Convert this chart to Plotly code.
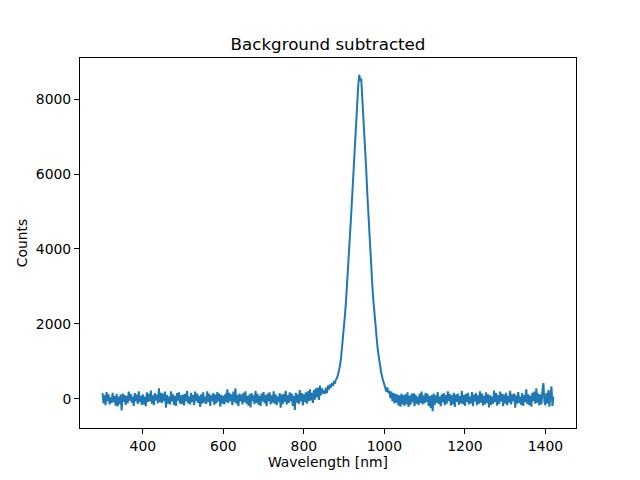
import numpy as np
import plotly.graph_objects as go

wl_start = 300
wl_step = 2.5
counts = [
    # 300 - 347.5
    150, -120, 90, -170, 180, -60, 120, -150, 40, -110, 160, -90, 70, -180, 130, -200, 60, -140, 110, -310,
    # 350 - 397.5
    140, -80, 100, -160, 70, -120, 190, -50, 130, -100, 60, -190, 150, -70, 110, -140, 200, -90, 80, -160,
    # 400 - 447.5
    120, -150, 60, -200, 170, -80, 130, -60, 220, -130, 90, -170, 150, -40, 110, -120, 280, -90, 160, -110,
    # 450 - 497.5
    140, -60, 190, -240, 100, -130, 60, -150, 200, -70, 120, -160, 80, -190, 150, -50, 170, -130, 90, -140,
    # 500 - 547.5
    110, -180, 130, -70, 210, -120, 60, -150, 160, -90, 100, -170, 190, -60, 140, -110, 80, -220, 120, -130,
    # 550 - 597.5
    170, -100, 60, -140, 200, -80, 130, -190, 90, -60, 150, -160, 110, -120, 180, -70, 140, -210, 100, -130,
    # 600 - 647.5
    80, -150, 130, -90, 250, -110, 160, -60, 120, -170, 190, -80, 280, -130, 100, -200, 140, -70, 110, -150,
    # 650 - 697.5
    160, -90, 200, -130, 70, -180, 120, -230, 150, -60, 90, -140, 210, -110, 130, -160, 80, -190, 140, -70,
    # 700 - 747.5
    180, -120, 100, -200, 140, -60, 170, -150, 90, -100, 200, -130, 120, -170, 60, -90, 150, -240, 110, -140,
    # 750 - 797.5
    130, -80, 210, -150, 90, -110, 170, -60, 140, -190, 80, -300, 160, -100, 120, -140, 230, -70, 150, -180,
    # 800 - 847.5
    120, -90, 170, -130, 200, -60, 250, -40, 160, -110, 230, -20, 280, 40, 300, -30, 350, 90, 280, 140,
    # 850 - 897.5
    220, 130, 300, 150, 360, 250, 380, 300, 420, 350, 450, 430, 520, 560, 650, 760, 900, 1100, 1350, 1620,
    # 900 - 947.5
    1950, 2280, 2650, 3050, 3500, 3950, 4400, 4900, 5400, 5950, 6500, 7050, 7550, 8000, 8350, 8650, 8500, 8550, 8100, 7700,
    # 950 - 997.5
    7200, 6650, 6100, 5500, 4950, 4450, 3950, 3500, 3050, 2650, 2300, 1980, 1700, 1430, 1200, 1000, 820, 680, 560, 450,
    # 1000 - 1047.5
    380, 280, 190, 300, 150, 220, 20, 190, -60, 150, -120, 130, -100, 110, -180, 90, -210, 140, -150, 100,
    # 1050 - 1097.5
    -190, 120, -140, 170, -220, 80, -160, 130, -90, 150, -200, 110, -130, 60, -170, 140, -110, 190, -150, 90,
    # 1100 - 1147.5
    -120, 160, -80, 130, -190, 70, -250, 100, -330, 140, -160, 90, -110, 180, -140, 60, -200, 120, -90, 150,
    # 1150 - 1197.5
    -170, 100, -130, 200, -60, 130, -180, 90, -150, 160, -220, 110, -80, 140, -160, 70, -120, 210, -140, 100,
    # 1200 - 1247.5
    -190, 130, -90, 160, -150, 60, -120, 180, -200, 110, -70, 150, -170, 90, -130, 200, -100, 140, -180, 80,
    # 1250 - 1297.5
    -150, 170, -110, 120, -230, 90, -160, 60, -130, 220, -90, 150, -180, 100, -140, 190, -70, 130, -200, 110,
    # 1300 - 1347.5
    -120, 160, -170, 80, -100, 210, -150, 120, -60, 140, -240, 90, -130, 180, -110, 60, -160, 150, -190, 100,
    # 1350 - 1397.5
    -90, 250, -140, 120, -170, 80, -210, 160, -60, 190, -130, 280, -100, 140, -180, 110, -150, 200, 420, -80,
    # 1400 - 1420
    -170, 150, -120, 230, -210, 120, 330, -190, 60,
]
wavelength = wl_start + wl_step * np.arange(len(counts))

x_ticks = [400, 600, 800, 1000, 1200, 1400]
y_ticks = [0, 2000, 4000, 6000, 8000]

fig = go.Figure()
fig.add_trace(go.Scatter(
    x=wavelength,
    y=counts,
    mode='lines',
    line=dict(color='#1f77b4', width=2),
    showlegend=False
))

axis_style = dict(
    showline=True, linecolor='black', linewidth=1, mirror=True,
    ticks='outside', ticklen=5, tickwidth=1, tickcolor='black',
    showgrid=False, zeroline=False, automargin=False,
    tickfont=dict(size=13.9, color='black'),
)

# the page body adds an 8 px offset, so the margins are shifted to compensate
fig.update_layout(
    width=640, height=480,
    margin=dict(l=72, r=72, t=50, b=60, autoexpand=False),
    paper_bgcolor='white', plot_bgcolor='white',
    font=dict(family='DejaVu Sans', size=13.9, color='black'),
    title=dict(text='Background subtracted', x=0.5, xref='paper',
               y=1 - 36 / 480, yref='container', yanchor='middle',
               font=dict(size=16.7)),
    xaxis=dict(axis_style, range=[244, 1476], tickvals=x_ticks,
               title=dict(text='Wavelength [nm]', standoff=4,
                          font=dict(size=13.9))),
    yaxis=dict(axis_style, range=[-780, 9100], tickvals=y_ticks,
               title=dict(text='Counts', standoff=4,
                          font=dict(size=13.9))),
)

fig.write_html("out.html")
